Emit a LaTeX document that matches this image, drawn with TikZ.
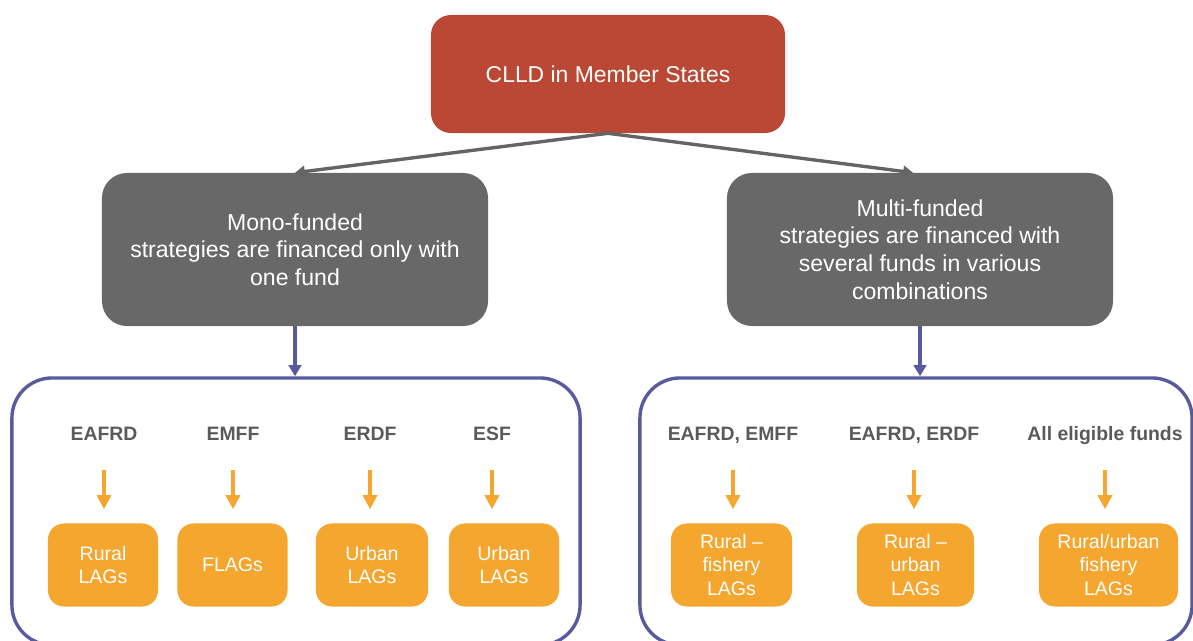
\documentclass[tikz,border=0pt]{standalone}
\usepackage{fontspec}
\setmainfont{Liberation Sans}
\usetikzlibrary{positioning}
\usetikzlibrary{calc}
\usetikzlibrary{arrows.meta}
\definecolor{clldred}{RGB}{186,72,52}
\definecolor{boxgray}{RGB}{104,104,104}
\definecolor{linegray}{RGB}{100,100,100}
\definecolor{lagorange}{RGB}{244,166,46}
\definecolor{linkblue}{RGB}{88,90,158}
\definecolor{labelgray}{RGB}{90,90,90}
\tikzset{
headbox/.style={
  rectangle,
  rounded corners=0.5cm,
  fill=clldred,
  text=white,
  minimum width=8.85cm,
  minimum height=2.95cm,
  font=\fontsize{16.3}{19}\selectfont
  },
stratbox/.style={
  rectangle,
  rounded corners=0.625cm,
  fill=boxgray,
  text=white,
  align=center,
  minimum width=9.65cm,
  minimum height=3.825cm,
  font=\fontsize{16.4}{19.6}\selectfont
  },
groupbox/.style={
  rectangle,
  draw=linkblue,
  line width=2.4pt,
  rounded corners=1cm,
  minimum height=6.675cm
  },
lagbox/.style={
  rectangle,
  rounded corners=0.4cm,
  fill=lagorange,
  text=white,
  align=center,
  minimum height=2.075cm,
  %minimum width set per box
  font=\fontsize{13.9}{16.8}\selectfont
  },
fundname/.style={
  inner sep=0pt,
  text height=10pt,
  text depth=0pt,
  text=labelgray,
  font=\bfseries\fontsize{13.8}{16}\selectfont
  },
splitarrow/.style={draw=linegray,line width=2.4pt,-{Triangle[width=8pt,length=7pt]}},
downarrow/.style={draw=linkblue,line width=2.6pt,-{Triangle[width=9pt,length=8pt]}},
feedarrow/.style={draw=lagorange,line width=2.2pt,-{Triangle[width=10pt,length=10pt]},
  shorten <=0.75cm,shorten >=0.35cm}
}

\begin{document}
\begin{tikzpicture}[x=0.025cm,y=-0.025cm]
        \useasboundingbox (0,0) rectangle (1193,640);
        % the two groups of LAGs
        \node[groupbox,minimum width=14.2cm] at (296,511.5) (monobox) {};
        \node[groupbox,minimum width=13.8cm] at (916,511.5) (multibox) {};
        \node[headbox] at (608,74) (clld) {CLLD in Member States};
        \node[stratbox] at (295,249.5) (mono) {Mono-funded\\strategies are financed only with\\one fund};
        \node[stratbox] at (920,249.5) (multi) {Multi-funded\\strategies are financed with\\several funds in various\\combinations};
        % mono-funded
        \node[fundname] at (104,433) (f1) {EAFRD};
        \node[fundname] at (233,433) (f2) {EMFF};
        \node[fundname] at (370,433) (f3) {ERDF};
        \node[fundname] at (492,433) (f4) {ESF};
        \node[lagbox,minimum width=2.75cm] at (103,565) (l1) {Rural\\LAGs};
        \node[lagbox,minimum width=2.75cm] at (232.5,565) (l2) {FLAGs};
        \node[lagbox,minimum width=2.8cm] at (372,565) (l3) {Urban\\LAGs};
        \node[lagbox,minimum width=2.75cm] at (504,565) (l4) {Urban\\LAGs};
        % multi-funded
        \node[fundname] at (733,433) (f5) {EAFRD, EMFF};
        \node[fundname] at (914,433) (f6) {EAFRD, ERDF};
        \node[fundname] at (1105,433) (f7) {All eligible funds};
        \node[lagbox,minimum width=3.025cm] at (731.5,565) (l5) {Rural --\\fishery\\LAGs};
        \node[lagbox,minimum width=2.925cm] at (915.5,565) (l6) {Rural --\\urban\\LAGs};
        \node[lagbox,minimum width=3.475cm] at (1108.5,565) (l7) {Rural/urban\\fishery\\LAGs};
        \path
        (clld.south) edge [splitarrow] (mono.north)
        (clld.south) edge [splitarrow] ([xshift=-0.175cm]multi.north)
        (mono) edge [downarrow] (mono |- monobox.north)
        (multi) edge [downarrow] (multi |- multibox.north)
        (f1) edge [feedarrow] (f1 |- l1.north)
        (f2) edge [feedarrow] (f2 |- l2.north)
        (f3) edge [feedarrow] (f3 |- l3.north)
        (f4) edge [feedarrow] (f4 |- l4.north)
        (f5) edge [feedarrow] (f5 |- l5.north)
        (f6) edge [feedarrow] (f6 |- l6.north)
        (f7) edge [feedarrow] (f7 |- l7.north)
        ;
    \end{tikzpicture}
\end{document}
